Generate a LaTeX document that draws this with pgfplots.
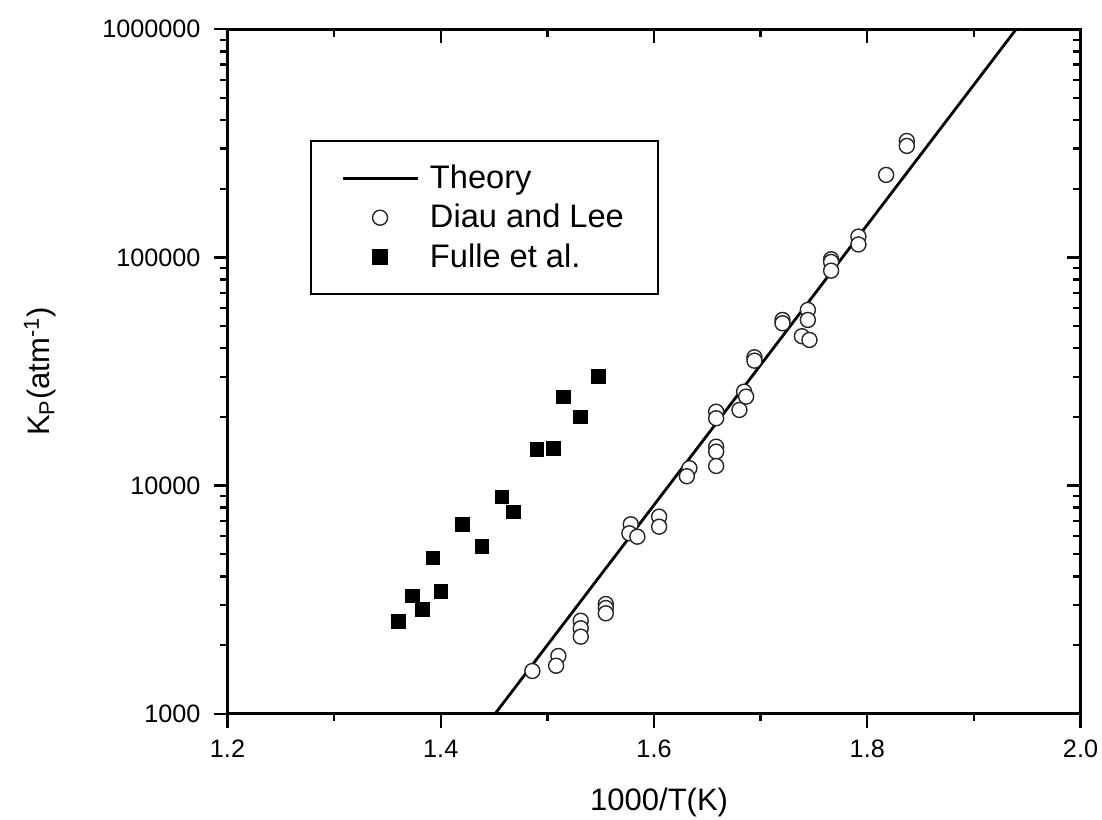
\documentclass[border=0pt]{standalone}
\usepackage{fontspec}
\setmainfont{Liberation Sans}
\usepackage{pgfplots}
\pgfplotsset{compat=1.18}
\pgfplotsset{
  mymarklegend/.style={legend image code/.code={\draw[mark repeat=2, mark phase=2, ##1] plot coordinates {(0pt,0pt) (18.75pt,0pt) (37.5pt,0pt)};}},
  mylinelegend/.style={legend image code/.code={\draw[##1] (0pt,0pt) -- (37.5pt,0pt);}},
}
\begin{document}
\begin{tikzpicture}
\begin{axis}[
  scale only axis, width=426.5pt, height=342.2pt,
  xmin=1.2, xmax=2.0, ymin=1000, ymax=1000000, ymode=log,
  xtick={1.2,1.4,1.6,1.8,2.0},
  minor xtick={1.3,1.5,1.7,1.9},
  ytick={1000,10000,100000,1000000},
  minor ytick={2000,3000,4000,5000,6000,7000,8000,9000,20000,30000,40000,50000,60000,70000,80000,90000,200000,300000,400000,500000,600000,700000,800000,900000},
  major tick length=7pt, minor tick length=3.75pt,
  every tick/.append style={black, line width=1.2pt},
  axis line style={line width=1.3pt},
  tick align=outside, xtick pos=left, ytick pos=left,
  xticklabels={1.2,1.4,1.6,1.8,2.0},
  yticklabels={1000,10000,100000,1000000},
  tick label style={font=\fontsize{12.6}{14}\selectfont},
  xticklabel style={yshift=-2.5pt},
  yticklabel style={xshift=-3pt},
  xlabel={1000/T(K)},
  ylabel={K\textsubscript{P}(atm\textsuperscript{-1})},
  label style={font=\fontsize{15.5}{18}\selectfont},
  xlabel style={at={(axis description cs:0.506,-0.129)}, anchor=center},
  ylabel style={at={(axis description cs:-0.22,0.5)}, anchor=center},
  legend cell align=left,
  legend style={at={(0.0967,0.8383)}, anchor=north west, draw=black, line width=1.2pt,
    font=\fontsize{16.3}{19}\selectfont, inner xsep=15pt, inner ysep=10pt, row sep=2.3pt,
    /tikz/every odd column/.append style={column sep=3.5pt}},
]
\addplot[black, line width=1.4pt, mylinelegend]
  coordinates {(1.451,1000) (1.9396,1000000)};
\addlegendentry{Theory}
\addplot[only marks, mark=*, mark size=3.75pt, mark options={draw=black!85, fill=white, line width=0.7pt}, mymarklegend]
  table {
x y
1.4859 1539
1.5103 1791
1.5082 1623
1.5313 2556
1.5313 2368
1.5313 2176
1.5548 3026
1.5548 2906
1.5548 2755
1.5782 6767
1.5769 6178
1.5844 5970
1.6048 7306
1.6048 6602
1.6332 11910
1.6308 10985
1.6583 14808
1.6583 14080
1.6583 12183
1.6583 21085
1.6583 19730
1.6801 21450
1.6845 25800
1.6864 24530
1.6942 36510
1.6942 35280
1.7205 53210
1.7205 51450
1.7443 58880
1.7443 53210
1.7387 45140
1.7458 43480
1.7661 98200
1.7661 95560
1.7661 87500
1.7917 123400
1.7917 114000
1.8177 230000
1.8371 324000
1.8371 308200
};
\addlegendentry{Diau and Lee\hspace{16pt}}
\addplot[only marks, mark=square*, mark size=3.4pt, mark options={draw=black, fill=black}, mymarklegend]
  table {
x y
1.3602 2531
1.3734 3281
1.3827 2869
1.4003 3427
1.3925 4815
1.4203 6741
1.4385 5397
1.4575 8913
1.4681 7660
1.4900 14424
1.5056 14570
1.5150 24450
1.5307 19980
1.5478 30020
};
\addlegendentry{Fulle et al.}
\end{axis}
\begin{axis}[
  scale only axis, width=426.5pt, height=342.2pt,
  xmin=1.2, xmax=2.0, ymin=1000, ymax=1000000, ymode=log,
  xtick={1.2,1.4,1.6,1.8,2.0},
  minor xtick={1.3,1.5,1.7,1.9},
  ytick={1000,10000,100000,1000000},
  minor ytick={2000,3000,4000,5000,6000,7000,8000,9000,20000,30000,40000,50000,60000,70000,80000,90000,200000,300000,400000,500000,600000,700000,800000,900000},
  major tick length=7pt, minor tick length=3.75pt,
  every tick/.append style={black, line width=1.2pt},
  axis line style={line width=1.3pt},
  tick align=inside, xtick pos=right, ytick pos=right,
  xticklabels={}, yticklabels={},
]
\addplot[draw=none] coordinates {(1.5,10000)};
\end{axis}
\pgfresetboundingbox
\path ([shift={(-113.75pt,-52.65pt)}]current axis.south west) rectangle ([shift={(10.75pt,14.65pt)}]current axis.north east);
\end{tikzpicture}
\end{document}
